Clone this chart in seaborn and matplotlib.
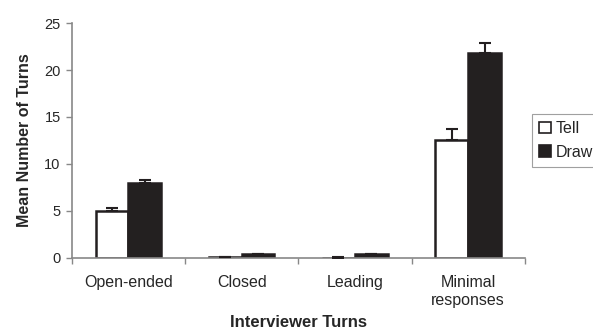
import matplotlib
matplotlib.use("Agg")
import matplotlib.pyplot as plt
import seaborn as sns
import pandas as pd
import numpy as np

sns.set_style("white")
plt.rcParams["font.family"] = ["Liberation Sans", "DejaVu Sans"]

categories = ["Open-ended", "Closed", "Leading", "Minimal\nresponses"]
tell_means = [5.0, 0.1, 0.0, 12.6]
draw_means = [8.0, 0.4, 0.4, 21.8]
tell_err = [0.3, 0.05, 0.1, 1.1]
draw_err = [0.25, 0.05, 0.05, 1.1]

df = pd.DataFrame({
    "category": categories * 2,
    "condition": ["Tell"] * 4 + ["Draw"] * 4,
    "mean": tell_means + draw_means,
})

fig, ax = plt.subplots(figsize=(5.93, 3.29), dpi=100)
fig.subplots_adjust(left=0.121, right=0.885, top=0.93, bottom=0.216)

sns.barplot(data=df, x="category", y="mean", hue="condition",
            palette={"Tell": "white", "Draw": "#231f20"},
            width=0.58, gap=0, edgecolor="#231f20", linewidth=1.8,
            errorbar=None, ax=ax)

# one-sided error bars on top of each bar
errs = tell_err + draw_err
for patch, err in zip(ax.patches[:8], errs):
    xc = patch.get_x() + patch.get_width() / 2
    top = patch.get_height()
    ax.errorbar(xc, top, yerr=[[0], [err]], fmt="none", ecolor="#231f20",
                elinewidth=1.5, capsize=4, capthick=1.5, zorder=3)

ax.set_ylim(0, 25)
ax.set_yticks([0, 5, 10, 15, 20, 25])
ax.set_xlim(-0.5, 3.5)
ax.set_xticks(np.arange(len(categories)))
ax.set_xticklabels(categories, fontsize=11.5, linespacing=1.3)
ax.tick_params(axis="y", labelsize=10.5, length=4, width=1, color="#888888",
               direction="out", left=True, pad=4)
ax.tick_params(axis="x", length=0, pad=12)
# category boundary tick marks along the baseline
ax.set_xticks(np.arange(-0.5, 4, 1), minor=True)
ax.tick_params(axis="x", which="minor", length=4, width=1, color="#888888",
               direction="out", bottom=True)

ax.set_xlabel("Interviewer Turns", fontsize=12, fontweight="bold", labelpad=5)
ax.set_ylabel("Mean Number of Turns", fontsize=11.5, fontweight="bold", labelpad=9)

for side in ["top", "right"]:
    ax.spines[side].set_visible(False)
for side in ["left", "bottom"]:
    ax.spines[side].set_color("#888888")
    ax.spines[side].set_linewidth(1.2)

leg = ax.legend(loc="center left", bbox_to_anchor=(1.015, 0.5), frameon=True,
                fontsize=11.5, handlelength=0.75, handleheight=0.75,
                handletextpad=0.3, borderpad=0.45, labelspacing=0.55,
                fancybox=False, borderaxespad=0)
leg.get_frame().set_edgecolor("#888888")
leg.get_frame().set_linewidth(0.8)
for h in leg.legend_handles:
    h.set_linewidth(1.2)

fig.savefig("out.png", dpi=100)
